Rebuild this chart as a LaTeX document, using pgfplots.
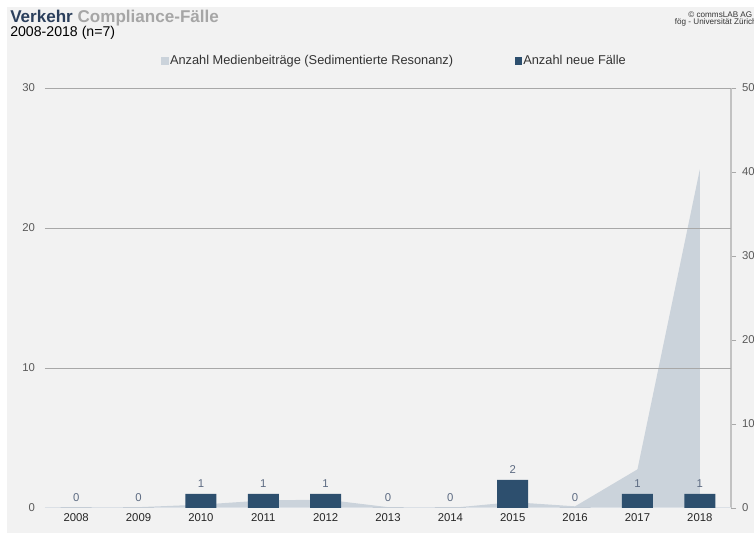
\documentclass[border=0pt]{standalone}
\usepackage{pgfplots}
\pgfplotsset{compat=1.18}
\usepackage{fontspec}
\setmainfont{Liberation Sans}
\definecolor{bg}{HTML}{F2F2F2}
\definecolor{areac}{HTML}{CBD3DB}
\definecolor{barc}{HTML}{2D4F6E}
\definecolor{titleblue}{HTML}{2B3F5C}
\definecolor{titlegray}{HTML}{A6A6A6}
\definecolor{labc}{HTML}{5D6B82}
\definecolor{tickc}{HTML}{5A5A5A}
\definecolor{gridc}{HTML}{A8A8A8}
\begin{document}
\begin{tikzpicture}[x=0.75pt,y=0.75pt]
\useasboundingbox (0,0) rectangle (754,535);
\clip (0,0) rectangle (754,535);
\fill[white] (0,0) rectangle (754,535);
\fill[bg] (7,2) rectangle (754,528);
% titles
\node[anchor=base west, inner sep=0pt, font=\fontsize{12.8}{14}\selectfont\bfseries] at (10,512) {\textcolor{titleblue}{Verkehr} \textcolor{titlegray}{Compliance-Fälle}};
\node[anchor=base west, inner sep=0pt, font=\fontsize{10.6}{12}\selectfont] at (10,498) {2008-2018 (n=7)};
\node[anchor=north east, inner sep=0pt, align=right, font=\fontsize{6.1}{5.6}\selectfont, text=black!80] at (757,524) {© commsLAB AG /\\fög - Universität Zürich};
% area axis (right)
\begin{axis}[
  at={(33.75pt,20.25pt)}, anchor=south west,
  width=514.5pt, height=315pt, scale only axis,
  xmin=-0.5, xmax=10.5, ymin=0, ymax=500,
  /pgf/number format/assume math mode=true,
  axis y line*=right, axis x line=none,
  ytick={0,100,200,300,400,500},
  y axis line style={draw=gridc!70, line width=0.8pt, -},
  tick align=outside, major tick length=3.75pt,
  tick style={draw=gridc, line width=0.6pt},
  yticklabel style={font=\fontsize{8.5}{10}\selectfont, text=tickc, xshift=1pt},
  xtick=\empty,
]
\addplot[fill=areac, draw=none] coordinates {(0,0)(1,1)(2,4)(3,9)(4,10)(5,1)(6,0)(7,7)(8,2)(9,46)(10,403)} \closedcycle;
\end{axis}
% bar axis (left)
\begin{axis}[
  at={(33.75pt,20.25pt)}, anchor=south west,
  width=514.5pt, height=315pt, scale only axis,
  xmin=-0.5, xmax=10.5, ymin=0, ymax=30,
  /pgf/number format/assume math mode=true,
  axis line style={draw=none},
  ytick={10,20,30}, ymajorgrids,
  extra y ticks={0}, extra y tick style={grid=none},
  grid style={draw=gridc, line width=0.6pt},
  major tick length=0pt,
  xtick={0,...,10},
  xticklabels={2008,2009,2010,2011,2012,2013,2014,2015,2016,2017,2018},
  xticklabel style={font=\fontsize{8.5}{10}\selectfont, text=black!85, yshift=-1pt},
  yticklabel style={font=\fontsize{8.5}{10}\selectfont, text=tickc, xshift=-4pt},
  legend columns=2,
  legend style={at={(0.510,1.064)}, anchor=center, draw=none, fill=none,
    font=\fontsize{9.6}{11}\selectfont, text=black!80,
    /tikz/every even column/.append style={column sep=44pt},
    /tikz/every odd column/.append style={column sep=-1pt}},
]
\draw[draw=areac!70, line width=0.8pt] (axis cs:-0.5,0) -- (axis cs:10.5,0);
\addlegendimage{legend image code/.code={\fill[areac] (0pt,-2.6pt) rectangle (5.2pt,2.6pt);}}
\addlegendentry{Anzahl Medienbeiträge (Sedimentierte Resonanz)}
\addlegendimage{legend image code/.code={\fill[barc] (0pt,-2.6pt) rectangle (5.2pt,2.6pt);}}
\addlegendentry{Anzahl neue Fälle}
\addplot[ybar, bar width=23.25pt, bar shift=0pt, fill=barc, draw=none, forget plot,
  nodes near coords,
  every node near coord/.append style={font=\fontsize{8.5}{10}\selectfont, text=labc, yshift=1pt}]
  coordinates {(0,0)(1,0)(2,1)(3,1)(4,1)(5,0)(6,0)(7,2)(8,0)(9,1)(10,1)};
\end{axis}
\end{tikzpicture}
\end{document}
